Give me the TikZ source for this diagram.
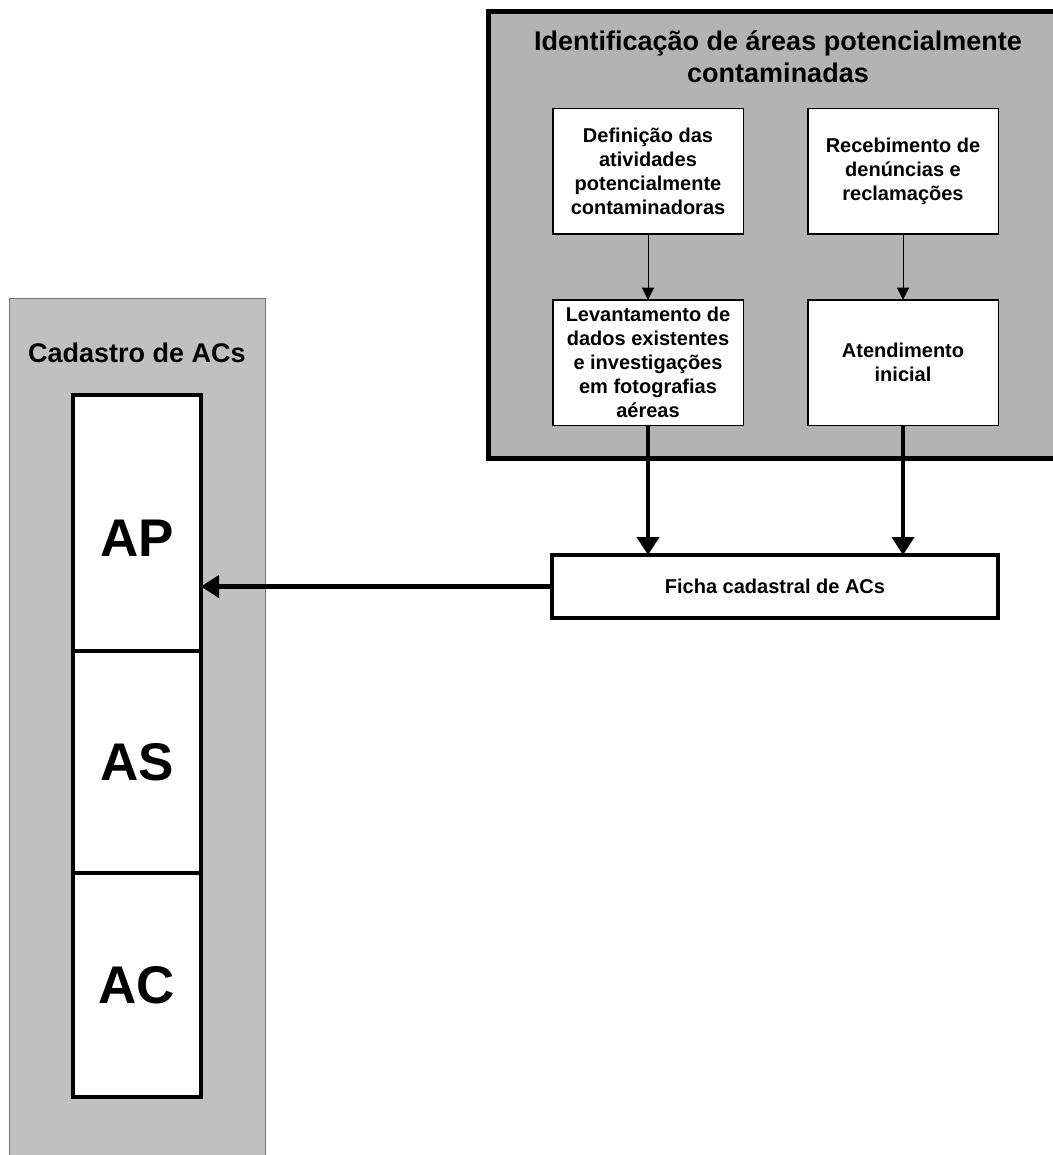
\documentclass[tikz,border=0pt]{standalone}
\usepackage{fontspec}
\setmainfont{Liberation Sans}
\usetikzlibrary{positioning,arrows.meta}

\definecolor{cadgray}{RGB}{192,192,192}
\definecolor{idgray}{RGB}{179,179,179}

\tikzset{
  panel/.style={draw=black!55, line width=1pt, fill=cadgray, inner sep=0pt, outer sep=0pt},
  frame/.style={draw, line width=5pt, fill=idgray, inner sep=0pt, outer sep=0pt},
  stepbox/.style={draw, line width=1.5pt, fill=white, minimum width=190.5pt, minimum height=125.5pt,
    align=center, inner sep=0pt, outer sep=0pt, font=\fontsize{20}{24}\selectfont\bfseries},
  fichabox/.style={draw, line width=4pt, fill=white, minimum width=446pt, minimum height=63pt,
    inner sep=0pt, outer sep=0pt, font=\fontsize{20}{24}\selectfont\bfseries},
  cell/.style={draw, line width=4.3pt, fill=white, minimum width=128pt, inner sep=0pt, outer sep=0pt,
    font=\fontsize{53}{60}\selectfont\bfseries},
  heading/.style={align=center, font=\fontsize{27}{32}\selectfont\bfseries},
  fino/.style={-{Triangle[length=12pt,width=12pt]}, line width=1pt},
  grosso/.style={-{Triangle[length=18pt,width=22pt]}, line width=4.3pt},
}

\begin{document}
\begin{tikzpicture}[x=1pt,y=-1pt]
  \useasboundingbox (0,0) rectangle (1052,1155);

  % cadastro
  \node[panel, anchor=north west, minimum width=256pt, minimum height=880pt] (cadastro) at (9,298) {};
  \node[heading] (cadtitle) at (137,353) {Cadastro de ACs};
  \node[cell, anchor=north, minimum height=256pt, text height=66pt, text depth=0pt] (ap) at (137,395) {AP};
  \node[cell, below=0pt of ap, minimum height=222pt] (as) {AS};
  \node[cell, below=0pt of as, minimum height=224pt] (ac) {AC};

  % identificacao
  \node[frame, anchor=north west, minimum width=580pt, minimum height=446pt] (ident) at (488,12) {};
  \node[heading] (idtitle) at (778,57) {Identificação de áreas potencialmente\\contaminadas};
  \node[stepbox] (def) at (648,171.5) {Definição das\\atividades\\potencialmente\\contaminadoras};
  \node[stepbox, right=64.5pt of def] (rec) {Recebimento de\\denúncias e\\reclamações};
  \node[stepbox, below=65.5pt of def] (lev) {Levantamento de\\dados existentes\\e investigações\\em fotografias\\aéreas};
  \node[stepbox, below=65.5pt of rec] (ate) {Atendimento\\inicial};

  \node[fichabox] (ficha) at (775,586.5) {Ficha cadastral de ACs};

  \draw[fino] (def) -- (lev);
  \draw[fino] (rec) -- (ate);
  \draw[grosso] (lev.south) -- (lev.south |- ficha.north);
  \draw[grosso] (ate.south) -- (ate.south |- ficha.north);
  \draw[grosso] (ficha.west) -- (ap.east |- ficha.west);
\end{tikzpicture}
\end{document}
